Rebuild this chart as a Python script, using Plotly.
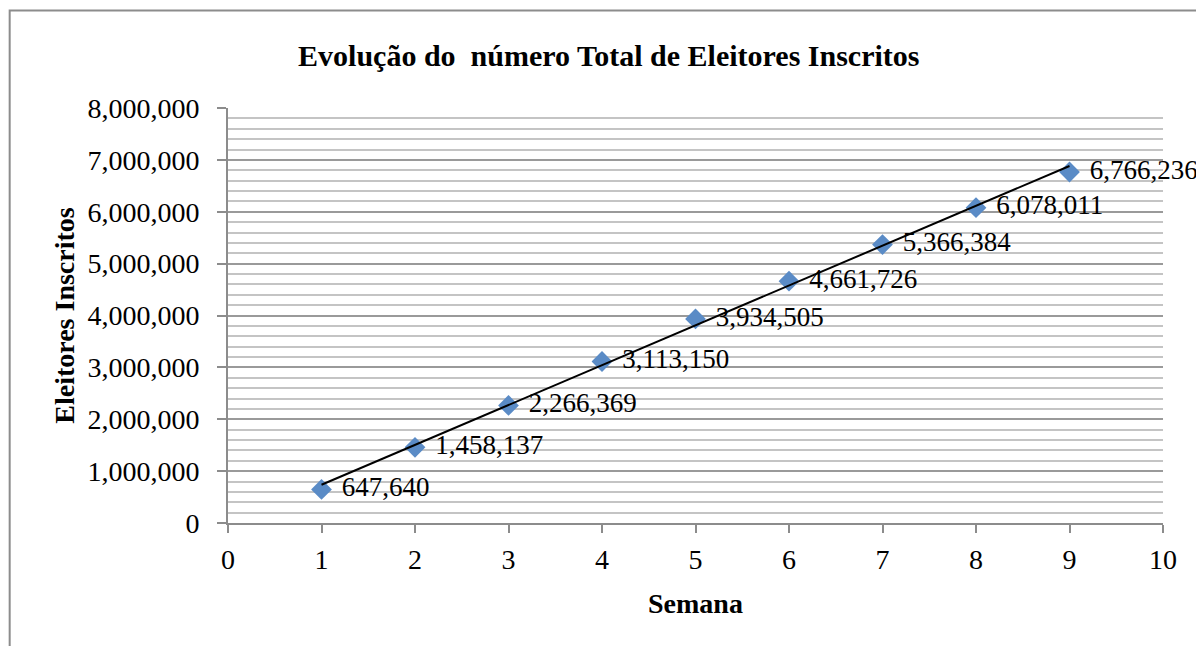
import numpy as np
import plotly.graph_objects as go

# semanas e eleitores inscritos
semana = [1, 2, 3, 4, 5, 6, 7, 8, 9]
inscritos = [647640, 1458137, 2266369, 3113150, 3934505,
             4661726, 5366384, 6078011, 6766236]
rotulos = [f"{v:,}" for v in inscritos]

titulo = "Evolução do\u00a0 número Total de Eleitores Inscritos"
titulo_x = "Semana"
titulo_y = "Eleitores Inscritos"

fonte = "Liberation Serif"
azul = "#5A8BC6"

# linha de tendência linear (como no Excel)
a, b = np.polyfit(semana, inscritos, 1)
tend_x = [semana[0], semana[-1]]
tend_y = [a * x + b for x in tend_x]

fig = go.Figure()

# marcadores
fig.add_trace(go.Scatter(
    x=semana, y=inscritos, mode="markers",
    marker=dict(symbol="diamond", size=16, color=azul, line=dict(width=0)),
    showlegend=False, hoverinfo="x+y"))

# tendência
fig.add_trace(go.Scatter(
    x=tend_x, y=tend_y, mode="lines",
    line=dict(color="black", width=2),
    showlegend=False, hoverinfo="skip"))

# rótulos de dados
fig.add_trace(go.Scatter(
    x=semana, y=inscritos, mode="text",
    text=["\u00a0\u00a0\u00a0" + r for r in rotulos],
    textposition="middle right",
    textfont=dict(family=fonte, size=27, color="black"),
    cliponaxis=False,
    showlegend=False, hoverinfo="skip"))

# a página tem 8px de margem no body, por isso as margens compensam
fig.update_layout(
    width=1204, height=646,
    margin=dict(l=220, r=49, t=100, b=131),
    paper_bgcolor="white", plot_bgcolor="white",
    font=dict(family=fonte, size=28, color="black"),
    title=dict(text="<b>" + titulo + "</b>", x=0.499, xanchor="center",
               y=0.927, yanchor="middle",
               font=dict(family=fonte, size=30, color="black")),
    xaxis=dict(
        range=[0, 10], dtick=1, tick0=0,
        showgrid=False, zeroline=False,
        showline=True, linecolor="#8C8C8C", linewidth=2,
        ticks="outside", ticklen=8, tickwidth=2, tickcolor="#8C8C8C",
        ticklabelstandoff=2,
        title=dict(text="<b>" + titulo_x + "</b>", standoff=20,
                   font=dict(family=fonte, size=28)),
    ),
    yaxis=dict(
        range=[0, 8000000], dtick=1000000, tick0=0,
        tickformat=",d",
        showgrid=True, gridcolor="#9A9A9A", gridwidth=1.5,
        zeroline=False,
        showline=True, linecolor="#8C8C8C", linewidth=2,
        ticks="outside", ticklen=9, tickwidth=2, tickcolor="#8C8C8C",
        ticklabelstandoff=12,
        minor=dict(dtick=200000, showgrid=True, gridcolor="#C4C4C4",
                   gridwidth=1.5),
        title=dict(text="<b>" + titulo_y + "</b>", standoff=5,
                   font=dict(family=fonte, size=28)),
    ),
    shapes=[dict(type="rect", xref="paper", yref="paper",
                 x0=-0.2335, x1=1.08, y0=-0.4, y1=1.235,
                 line=dict(color="#8C8C8C", width=2), layer="below")],
)

fig.write_html("out.html")
